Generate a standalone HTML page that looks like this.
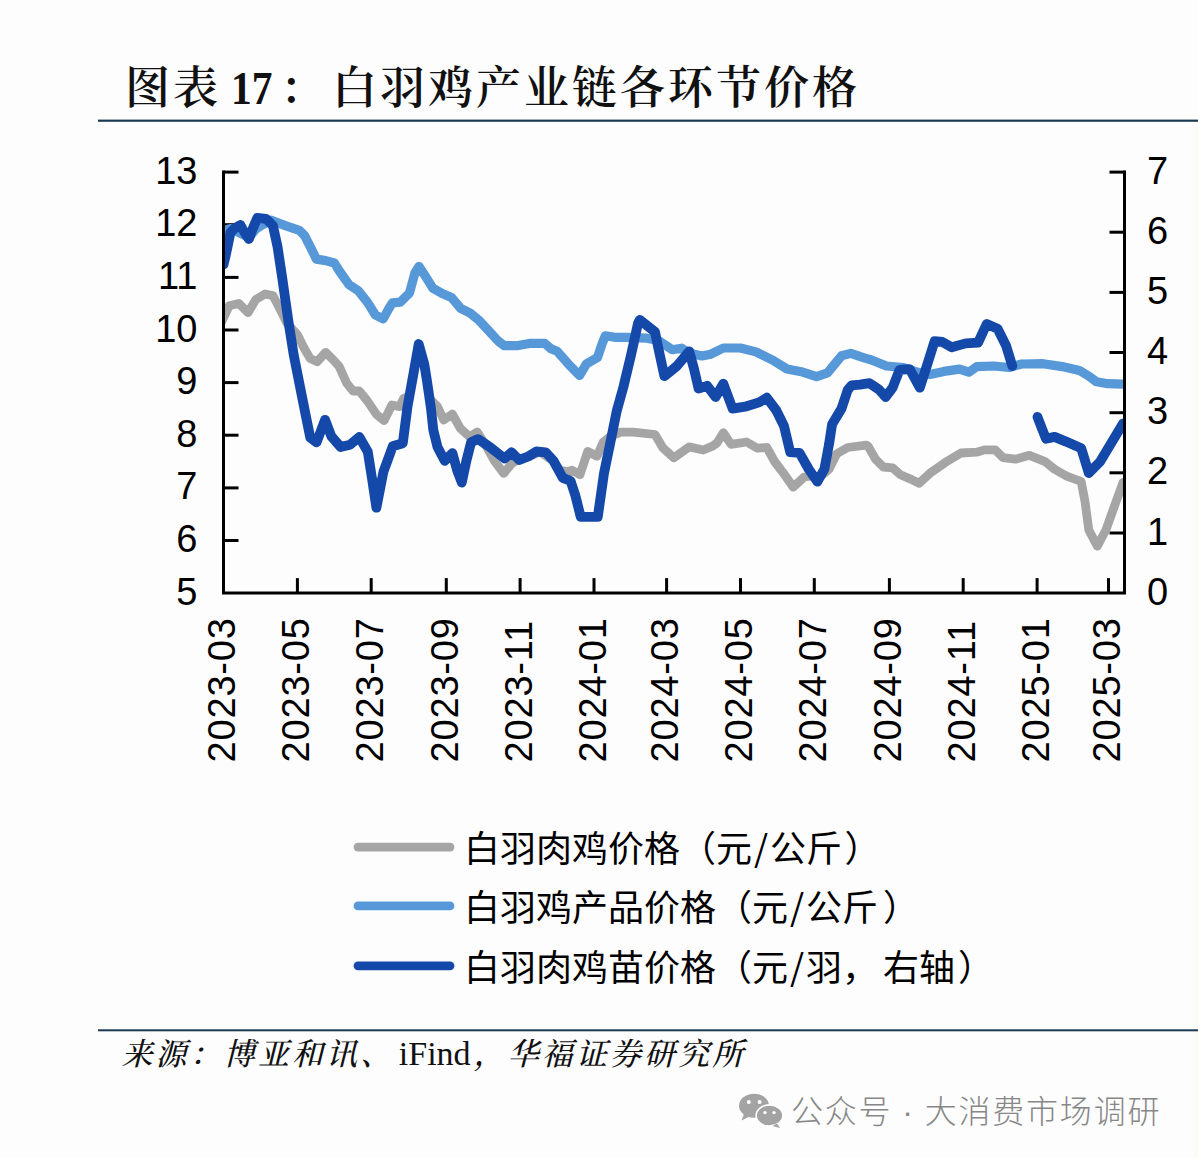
<!DOCTYPE html>
<html lang="zh-CN"><head><meta charset="utf-8"><title>图表 17：白羽鸡产业链各环节价格</title>
<style>
html,body{margin:0;padding:0;background:#fdfdfe;}
body{width:1198px;height:1158px;position:relative;overflow:hidden;}
.t{position:absolute;white-space:nowrap;line-height:1;}
#title{left:0;top:0;width:1198px;height:118px;font-family:"Liberation Serif","Noto Serif CJK SC",serif;font-weight:600;font-size:45px;letter-spacing:3px;color:#111;}
#title span{position:absolute;top:67px;line-height:1;}
#title .a{left:125px;}
#title .n{font-weight:bold;left:231px;letter-spacing:0;font-size:46px;top:66px;transform:scaleX(.9);transform-origin:0 0;}
#title .c{left:280px;}
#title .b{left:332px;}
#src{left:121.5px;top:1036.8px;font-family:"Liberation Serif","Noto Serif CJK SC",serif;font-weight:500;font-size:31px;letter-spacing:3.1px;color:#111;font-style:italic;}
#src .l{letter-spacing:0;font-style:normal;font-size:34px;margin:0 3px 0 4.5px;}
.lg{left:464px;font-family:"Liberation Sans","Noto Sans CJK SC",sans-serif;font-size:36px;color:#000;}
.lg .sl{font-family:"Noto Sans CJK SC",sans-serif;display:inline-block;width:18px;text-align:center;}
.lg .cp{margin-left:5px;}
#wm{left:791px;top:1096px;font-family:"Liberation Sans","Noto Sans CJK SC",sans-serif;font-weight:300;font-size:32px;letter-spacing:1.8px;word-spacing:-0.8px;color:#878787;}
</style></head><body>
<svg width="1198" height="1158" viewBox="0 0 1198 1158" style="position:absolute;left:0;top:0">
<rect x="1194.6" y="124" width="3.4" height="1034" fill="#fafbf5"/>
<rect x="98" y="119.6" width="1100" height="2.2" fill="#1c3a52"/>
<rect x="98" y="1029.3" width="1100" height="2" fill="#1c3a52"/>
<g stroke="#000" stroke-width="3" fill="none" stroke-linecap="butt">
<path d="M223.5 172.1 h15"/>
<path d="M223.5 224.7 h15"/>
<path d="M223.5 277.4 h15"/>
<path d="M223.5 330.0 h15"/>
<path d="M223.5 382.6 h15"/>
<path d="M223.5 435.2 h15"/>
<path d="M223.5 487.9 h15"/>
<path d="M223.5 540.5 h15"/>
<path d="M1124.5 172.1 h-15"/>
<path d="M1124.5 232.2 h-15"/>
<path d="M1124.5 292.4 h-15"/>
<path d="M1124.5 352.5 h-15"/>
<path d="M1124.5 412.7 h-15"/>
<path d="M1124.5 472.8 h-15"/>
<path d="M1124.5 533.0 h-15"/>
<path d="M297.4 593.1 v-15"/>
<path d="M371.2 593.1 v-15"/>
<path d="M446.3 593.1 v-15"/>
<path d="M520.1 593.1 v-15"/>
<path d="M594.0 593.1 v-15"/>
<path d="M666.6 593.1 v-15"/>
<path d="M740.5 593.1 v-15"/>
<path d="M814.3 593.1 v-15"/>
<path d="M889.4 593.1 v-15"/>
<path d="M963.2 593.1 v-15"/>
<path d="M1037.1 593.1 v-15"/>
<path d="M1108.5 593.1 v-15"/>
</g>
<defs><clipPath id="pc"><rect x="223.5" y="150" width="901.0" height="460"/></clipPath></defs>
<g fill="none" stroke-linejoin="round" stroke-linecap="round" clip-path="url(#pc)">
<polyline points="222.0,321.0 229.3,305.7 238.7,303.4 248.0,312.7 255.8,299.5 265.1,294.0 272.9,295.6 279.1,307.3 286.8,322.8 297.7,335.2 303.9,347.7 310.2,358.6 317.2,361.7 325.7,352.3 333.5,360.1 339.0,366.2 346.8,383.3 353.0,391.0 359.3,391.0 367.0,400.4 376.4,414.4 384.1,420.6 391.9,405.0 399.7,406.6 403.5,398.5 408.0,396.5" stroke="#a6a5a5" stroke-width="8.8"/>
<polyline points="431.0,400.0 437.5,406.5 443.7,420.0 452.3,414.0 460.2,428.2 469.5,436.7 477.3,432.0 486.6,446.8 494.4,460.8 503.7,473.3 511.5,464.0 517.7,459.3 528.0,457.0 540.0,452.0 553.0,461.0 560.0,470.0 567.5,471.7 572.1,470.2 579.9,474.8 587.7,451.5 597.0,456.2 603.2,442.2 611.0,436.0 620.8,432.1 633.3,432.1 655.0,434.5 662.8,447.7 673.7,457.8 689.2,446.9 703.2,450.0 712.5,446.1 717.1,442.8 723.3,432.7 731.1,444.4 746.6,442.0 757.5,448.2 766.8,447.5 774.6,461.5 783.9,473.9 793.3,487.1 804.2,477.0 812.0,476.0 820.0,477.0 829.0,469.2 836.8,453.7 847.7,447.5 866.3,445.1 868.5,446.8 875.5,459.2 883.3,467.0 892.6,467.8 900.4,474.8 911.3,479.4 919.1,483.3 930.0,473.2 945.5,462.3 961.0,453.0 976.6,452.2 984.4,449.9 995.2,449.9 1003.0,457.7 1015.4,459.2 1029.4,455.3 1045.1,461.6 1054.6,469.2 1066.0,475.8 1081.2,481.5 1085.0,501.5 1088.8,530.0 1097.3,546.1 1105.9,530.0 1115.4,503.4 1123.0,482.5" stroke="#a6a5a5" stroke-width="8.8"/>
<polyline points="222.0,231.0 231.0,228.5 238.7,232.5 248.8,237.5 256.0,229.0 261.0,225.6 271.3,220.2 285.3,225.6 299.3,230.3 304.7,235.8 310.2,246.6 316.4,259.1 325.7,260.6 334.3,263.0 339.7,271.5 349.0,284.7 358.4,290.9 367.7,302.6 375.4,315.0 383.2,318.9 388.7,308.8 392.5,302.8 400.2,302.2 409.5,292.9 415.0,272.6 418.9,266.4 425.1,275.8 432.9,288.2 442.2,293.6 451.5,297.5 460.8,308.4 470.2,313.1 479.5,320.8 488.8,330.9 498.1,341.0 504.4,345.7 516.8,345.7 529.2,343.4 544.8,343.4 551.0,348.8 557.1,351.3 569.5,365.3 579.6,375.4 586.6,363.7 597.5,357.5 602.2,343.5 605.3,335.8 614.6,337.3 627.0,337.3 645.7,338.1 658.1,340.4 672.1,349.7 681.5,348.2 689.2,352.9 701.7,356.0 710.9,354.2 723.3,348.0 740.4,348.0 756.0,351.9 773.1,360.4 787.0,369.0 802.6,372.1 816.6,376.7 827.5,372.9 835.2,363.5 841.5,355.8 850.8,353.4 864.8,358.1 870.9,359.7 886.4,366.0 903.5,367.5 917.0,372.0 930.0,374.5 943.9,371.4 959.5,369.1 968.8,372.2 976.6,366.7 993.7,366.0 1009.2,367.5 1021.7,364.0 1043.2,363.7 1062.2,366.6 1079.3,370.4 1088.8,376.1 1096.4,381.8 1107.8,383.7 1123.0,384.1" stroke="#5698d8" stroke-width="9.2"/>
<polyline points="223.5,264.5 225.8,255.0 230.5,232.5 235.0,228.0 240.4,225.0 244.0,231.5 248.9,239.0 253.0,228.0 257.3,217.8 266.0,218.8 272.9,225.5 277.5,246.6 282.2,277.7 288.4,321.3 293.8,355.4 304.9,411.3 310.3,437.7 316.5,442.4 325.1,419.8 331.3,436.2 340.6,447.0 350.0,444.7 359.3,437.0 367.8,451.7 371.7,476.6 376.4,507.7 383.4,471.9 392.7,446.3 402.8,443.2 407.5,406.6 413.7,372.4 418.7,344.0 424.3,364.4 427.1,381.8 430.9,407.7 433.3,430.0 437.5,447.0 444.7,460.8 452.4,453.1 457.1,470.2 461.8,482.6 466.4,460.8 471.1,442.2 478.1,439.1 489.7,446.8 504.5,458.5 511.5,452.3 519.3,460.1 528.6,456.2 536.4,451.5 545.7,452.3 553.5,460.8 562.8,477.9 570.6,481.0 575.2,495.0 580.7,516.8 597.8,516.8 604.0,473.3 610.4,442.2 616.7,411.1 623.4,387.0 631.2,354.4 638.0,323.3 639.8,319.8 655.0,331.9 659.7,354.4 664.4,376.2 676.8,366.1 689.2,351.3 693.9,368.4 698.6,388.6 707.1,385.8 715.6,397.0 723.3,383.7 732.6,408.6 746.6,406.3 759.1,402.4 766.8,397.7 776.2,410.2 783.9,425.7 790.2,452.1 799.5,452.9 808.8,469.2 817.4,481.7 824.4,469.2 829.0,444.4 832.1,424.2 841.5,408.6 847.7,390.0 851.6,385.3 860.0,384.6 869.3,383.1 878.7,389.3 885.6,397.0 892.6,387.7 899.6,369.8 909.7,369.1 919.8,387.7 926.8,366.0 934.6,341.1 942.4,341.9 951.7,347.3 965.7,343.4 978.1,342.6 986.7,324.0 997.6,328.7 1006.1,345.8 1012.3,366.0" stroke="#1449aa" stroke-width="9.8"/>
<polyline points="1037.5,416.9 1042.2,429.3 1046.0,438.8 1054.6,436.9 1066.0,441.6 1081.2,448.3 1088.8,473.0 1100.2,461.6 1111.6,442.6 1123.0,423.6" stroke="#1449aa" stroke-width="9.8"/>
</g>
<path d="M223.5 170.6 V593.1 H1124.5 V170.6" stroke="#000" stroke-width="3" fill="none"/>
<g font-family="'Liberation Sans', sans-serif" font-size="38" fill="#000">
<text x="197.5" y="183.6" text-anchor="end">13</text>
<text x="197.5" y="236.2" text-anchor="end">12</text>
<text x="197.5" y="288.9" text-anchor="end">11</text>
<text x="197.5" y="341.5" text-anchor="end">10</text>
<text x="197.5" y="394.1" text-anchor="end">9</text>
<text x="197.5" y="446.7" text-anchor="end">8</text>
<text x="197.5" y="499.4" text-anchor="end">7</text>
<text x="197.5" y="552.0" text-anchor="end">6</text>
<text x="197.5" y="604.6" text-anchor="end">5</text>
<text x="1147" y="183.6">7</text>
<text x="1147" y="243.7">6</text>
<text x="1147" y="303.9">5</text>
<text x="1147" y="364.0">4</text>
<text x="1147" y="424.2">3</text>
<text x="1147" y="484.3">2</text>
<text x="1147" y="544.5">1</text>
<text x="1147" y="604.6">0</text>
<text transform="translate(235.1,762.4) rotate(-90)" letter-spacing="0.8">2023-03</text>
<text transform="translate(309.0,762.4) rotate(-90)" letter-spacing="0.8">2023-05</text>
<text transform="translate(382.8,762.4) rotate(-90)" letter-spacing="0.8">2023-07</text>
<text transform="translate(457.9,762.4) rotate(-90)" letter-spacing="0.8">2023-09</text>
<text transform="translate(531.7,762.4) rotate(-90)" letter-spacing="0.8">2023-11</text>
<text transform="translate(605.6,762.4) rotate(-90)" letter-spacing="0.8">2024-01</text>
<text transform="translate(678.2,762.4) rotate(-90)" letter-spacing="0.8">2024-03</text>
<text transform="translate(752.1,762.4) rotate(-90)" letter-spacing="0.8">2024-05</text>
<text transform="translate(825.9,762.4) rotate(-90)" letter-spacing="0.8">2024-07</text>
<text transform="translate(901.0,762.4) rotate(-90)" letter-spacing="0.8">2024-09</text>
<text transform="translate(974.8,762.4) rotate(-90)" letter-spacing="0.8">2024-11</text>
<text transform="translate(1048.7,762.4) rotate(-90)" letter-spacing="0.8">2025-01</text>
<text transform="translate(1120.1,762.4) rotate(-90)" letter-spacing="0.8">2025-03</text>
</g>
<path d="M358 847.1 H450" stroke="#a6a5a5" stroke-width="8.8" stroke-linecap="round"/>
<path d="M358 905.9 H450" stroke="#5698d8" stroke-width="8.8" stroke-linecap="round"/>
<path d="M358 965.8 H450" stroke="#1449aa" stroke-width="8.8" stroke-linecap="round"/>
<g fill="#a3a3a3"><ellipse cx="754" cy="1105.8" rx="15" ry="12"/><path d="M744 1114 l-2.5 6.5 7-3.5z"/><ellipse cx="769.5" cy="1115.5" rx="13.4" ry="10.6" stroke="#fff" stroke-width="1.6"/><path d="M777 1123.5 l3 4.5 -7.5-2z"/></g><g fill="#fff"><circle cx="748.8" cy="1102" r="2"/><circle cx="759.6" cy="1102" r="2"/><circle cx="765" cy="1112.6" r="1.7"/><circle cx="774" cy="1112.6" r="1.7"/></g>
</svg>
<div class="t" id="title"><span class="a">图表 </span><span class="n">17</span><span class="c">：</span><span class="b">白羽鸡产业链各环节价格</span></div>
<div class="t lg" style="top:828.2px">白羽肉鸡价格（元<span class="sl">/</span>公斤<span class="cp" style="margin-left:2.5px">）</span></div>
<div class="t lg" style="top:887px">白羽鸡产品价格（元<span class="sl">/</span>公斤<span class="cp">）</span></div>
<div class="t lg" style="top:947.4px">白羽肉鸡苗价格（元<span class="sl">/</span>羽，<span class="cp">右</span>轴<span class="cp" style="margin-left:3px">）</span></div>
<div class="t" id="src">来源：博亚和讯、<span class="l">iFind</span>，华福证券研究所</div>
<div class="t" id="wm">公众号 · 大消费市场调研</div>
</body></html>
